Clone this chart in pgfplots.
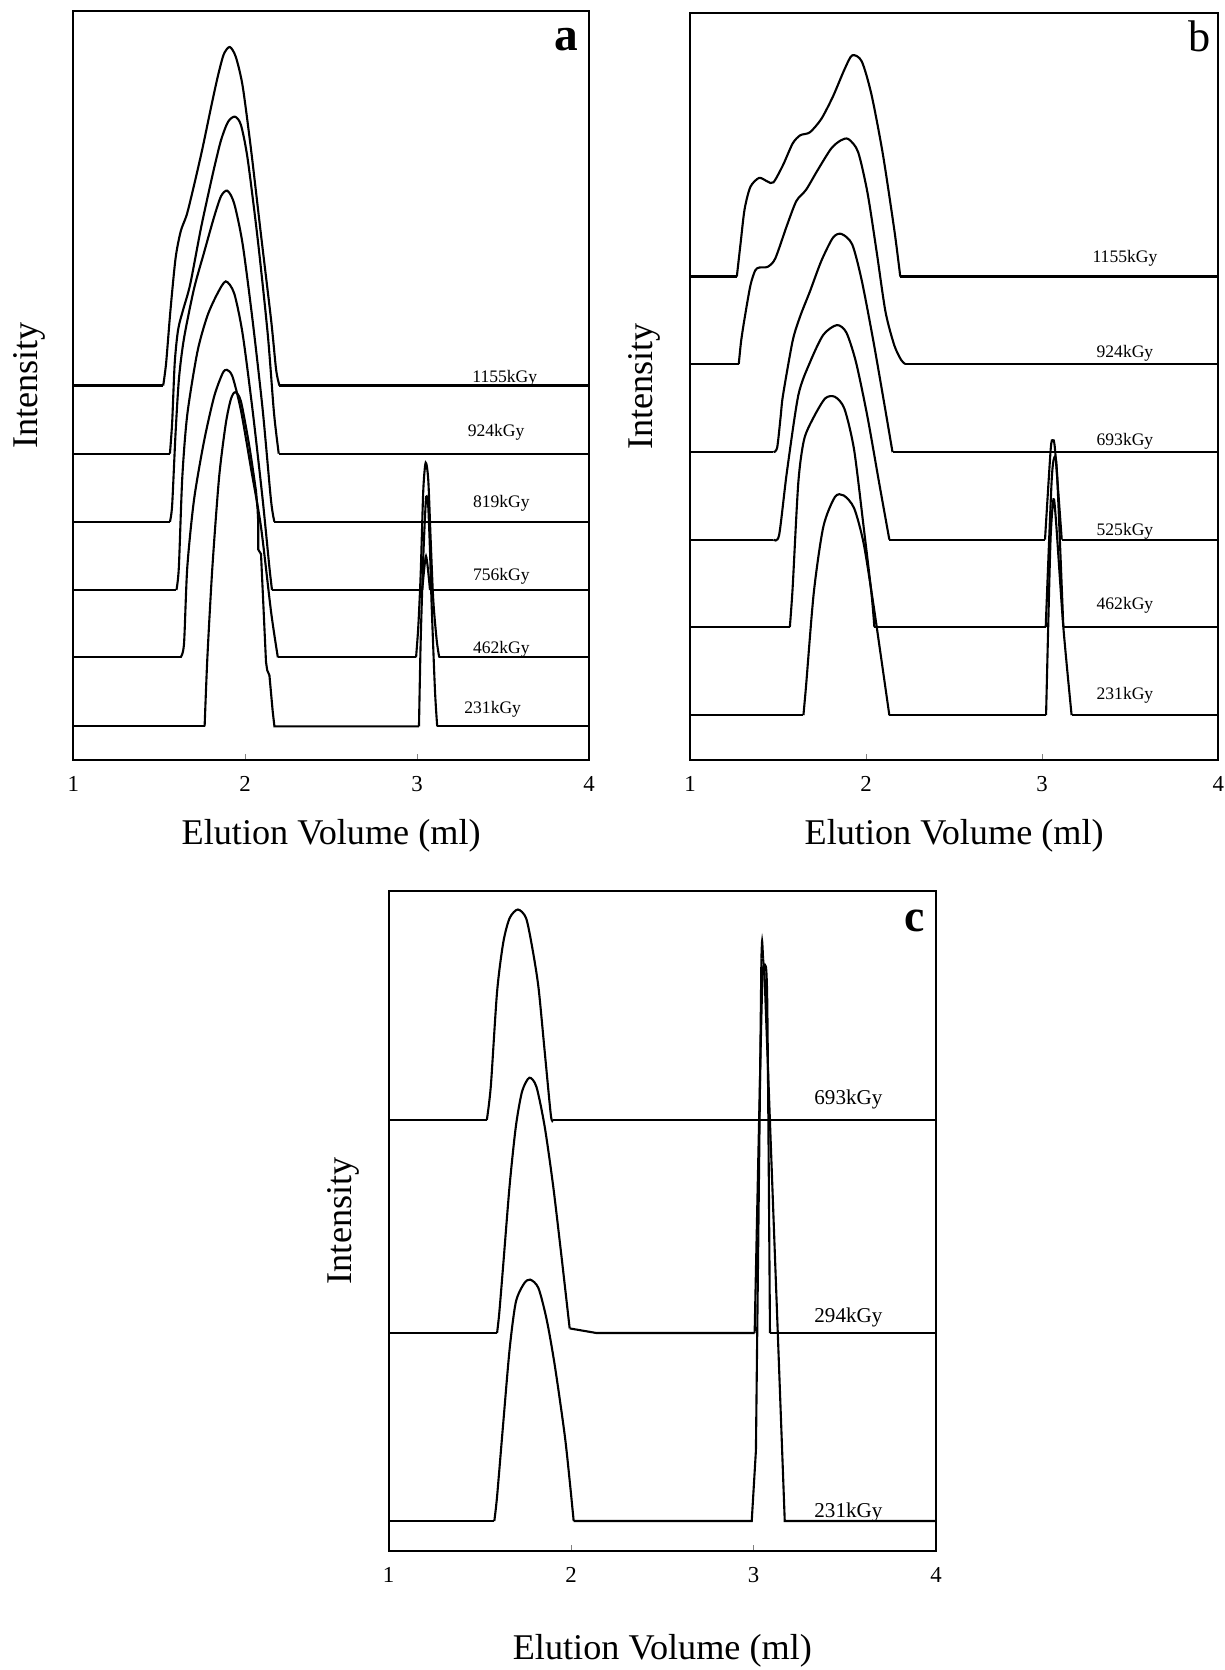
\documentclass[border=0pt]{standalone}
\usepackage{fontspec}
\setmainfont{Liberation Serif}
\usepackage{pgfplots}
\pgfplotsset{compat=1.18}

\pgfplotsset{
  elu/.style={
    scale only axis, anchor=south west,
    xmin=1, xmax=4, ymin=0, ymax=100,
    xtick={1,2,3,4}, ytick=\empty, xtick pos=bottom, tick align=inside,
    major tick length=0.6mm, line width=0.6pt,
    /pgf/number format/assume math mode=true,
    xticklabel style={font=\fontsize{6.5}{7}\selectfont, yshift=-0.4mm},
    xlabel={Elution Volume (ml)}, ylabel={Intensity},
    label style={font=\fontsize{10.3}{12}\selectfont},
    xlabel style={at={(axis description cs:0.5,0)}, anchor=center, yshift=-7.6mm},
    ylabel style={at={(axis description cs:-0.086,0.5)}, anchor=center},
  }
}
% straight pieces (baselines) and smooth pieces (peaks)
\newcommand\lin[1]{\addplot[black, line width=0.6pt, mark=none] coordinates {#1};}
\newcommand\seg[1]{\addplot[black, line width=0.6pt, mark=none, smooth, tension=0.45] coordinates {#1};}
\newcommand\lab[3]{\node[font=\fontsize{5}{6}\selectfont] at (axis cs:#1,#2) {#3kGy};}

\begin{document}
\begin{tikzpicture}
\path[use as bounding box] (0,0) rectangle (122.5mm,-167mm);

% ---- a ----
\begin{axis}[elu, at={(7.33mm,-76.0mm)}, width=51.57mm, height=74.9mm]
% 1155
\lin{(1,50)(1.523,50)}
\seg{(1.523,50)(1.54,53)(1.565,60)(1.595,67)(1.625,70.6)(1.66,72.8)(1.70,76.5)(1.75,81.5)(1.80,87)(1.84,91.2)(1.875,94.2)(1.91,95.2)(1.945,93.9)(1.985,90)(2.034,81.5)(2.092,70.1)(2.151,58.7)(2.18,52.1)(2.199,50)}
\lin{(2.199,50)(4,50)}
% 924
\lin{(1,40.9)(1.562,40.9)}
\seg{(1.562,40.9)(1.575,45)(1.59,53)(1.61,57.5)(1.64,60.2)(1.68,63.5)(1.74,70.7)(1.78,75)(1.82,79.1)(1.86,82.8)(1.90,85.2)(1.94,85.9)(1.975,84.8)(2.014,80.3)(2.073,69.5)(2.131,56.9)(2.165,47)(2.18,43.7)(2.195,40.9)}
\lin{(2.195,40.9)(4,40.9)}
% 819
\lin{(1,31.8)(1.562,31.8)}
\seg{(1.562,31.8)(1.575,34)(1.595,43.7)(1.615,51)(1.644,56.3)(1.702,62.9)(1.76,67.7)(1.819,72.5)(1.86,75.3)(1.897,76.0)(1.936,74.3)(1.985,68.9)(2.043,58.7)(2.102,46.7)(2.15,34.7)(2.17,31.8)}
\lin{(2.17,31.8)(4,31.8)}
% 756
\lin{(1,22.7)(1.6,22.7)}
\seg{(1.6,22.7)(1.614,25.7)(1.634,37.7)(1.663,46.1)(1.722,54.5)(1.78,59.3)(1.839,62.3)(1.887,63.9)(1.936,62.3)(1.985,56.9)(2.043,46.7)(2.102,34.7)(2.141,25.7)(2.156,22.7)}
\lin{(2.156,22.7)(3.03,22.7)}
\seg{(3.03,22.7)(3.052,27.2)(3.075,22.7)}
\lin{(3.075,22.7)(4,22.7)}
% 462
\lin{(1,13.7)(1.624,13.7)}
\seg{(1.624,13.7)(1.644,15.5)(1.663,25.7)(1.702,34.7)(1.76,42.5)(1.819,48.5)(1.868,51.6)(1.893,52.1)(1.926,51.2)(1.975,46.7)(2.034,38.9)(2.092,31.1)(2.151,19.7)(2.19,13.7)}
\lin{(2.19,13.7)(2.994,13.7)}
\seg{(2.994,13.7)(3.007,17.8)(3.021,24.9)(3.036,36.0)(3.05,39.7)(3.065,37.4)(3.079,29.4)(3.094,21.4)(3.114,16.0)(3.129,13.7)}
\lin{(3.129,13.7)(4,13.7)}
% 231
\lin{(1,4.5)(1.764,4.5)}
\seg{(1.764,4.5)(1.78,13.7)(1.809,25.7)(1.848,37.7)(1.887,44.9)(1.917,48.2)(1.942,49.1)(1.975,47.9)(2.024,41.9)(2.063,35.9)}
\lin{(2.063,35.9)(2.072,33.5)(2.076,31.7)(2.076,28.1)(2.092,27.5)(2.121,13.1)(2.128,12)(2.141,11.3)(2.16,6.5)(2.17,4.5)(3.011,4.5)}
\seg{(3.011,4.5)(3.021,16.0)(3.036,27.1)(3.05,34.3)(3.056,35.2)(3.065,33.8)(3.075,28.0)(3.085,20.5)(3.104,9.3)(3.117,4.5)}
\lin{(3.117,4.5)(4,4.5)}
\lab{3.51}{51.0}{1155}
\lab{3.46}{43.8}{924}
\lab{3.49}{34.3}{819}
\lab{3.49}{24.5}{756}
\lab{3.49}{14.8}{462}
\lab{3.44}{6.8}{231}
\node[font=\bfseries\fontsize{13.5}{14}\selectfont] at (rel axis cs:1,1) [xshift=-2.25mm, yshift=-2.9mm] {a};
\end{axis}

% ---- b ----
\begin{axis}[elu, at={(69.0mm,-76.0mm)}, width=52.83mm, height=74.73mm]
% 1155
\lin{(1,64.7)(1.266,64.7)}
\seg{(1.266,64.7)(1.288,69.3)(1.31,73.7)(1.343,76.7)(1.393,77.9)(1.441,77.4)(1.474,77.3)(1.528,79.6)(1.583,82.5)(1.626,83.6)(1.681,84.0)(1.746,85.8)(1.812,88.8)(1.877,92.4)(1.921,94.3)(1.975,93.5)(2.03,89.1)(2.095,81.1)(2.161,70.8)(2.194,64.7)}
\lin{(2.194,64.7)(4,64.7)}
% 924
\lin{(1,53.0)(1.277,53.0)}
\seg{(1.277,53.0)(1.29,56)(1.31,59.1)(1.343,63.5)(1.37,65.5)(1.393,65.9)(1.441,66.0)(1.484,67.1)(1.55,71.5)(1.604,74.8)(1.659,76.3)(1.724,78.9)(1.801,81.8)(1.855,82.9)(1.899,83.1)(1.954,81.4)(2.008,75.9)(2.06,68)(2.11,60)(2.16,55.5)(2.2,53.5)(2.222,53.0)}
\lin{(2.222,53.0)(4,53.0)}
% 693
\lin{(1,41.2)(1.474,41.2)}
\seg{(1.474,41.2)(1.495,41.8)(1.515,46)(1.528,48.8)(1.583,56.1)(1.626,59.4)(1.681,62.7)(1.746,66.8)(1.812,69.9)(1.86,70.4)(1.921,69.0)(1.975,64.2)(2.041,56.1)(2.106,47.3)(2.15,41.2)}
\lin{(2.15,41.2)(4,41.2)}
% 525
\lin{(1,29.5)(1.474,29.5)}
\seg{(1.474,29.5)(1.506,30.1)(1.55,38.5)(1.615,48.8)(1.681,53.2)(1.757,56.9)(1.834,58.2)(1.888,57.2)(1.943,53.2)(2.008,45.9)(2.074,37.1)(2.132,29.5)}
\lin{(2.132,29.5)(3.016,29.5)}
\seg{(3.016,29.5)(3.048,41.5)(3.06,42.8)(3.073,41.5)(3.111,29.5)}
\lin{(3.111,29.5)(4,29.5)}
% 462
\lin{(1,17.8)(1.567,17.8)}
\seg{(1.567,17.8)(1.583,23.1)(1.615,37.1)(1.648,42.9)(1.703,45.9)(1.768,48.4)(1.823,48.6)(1.877,47.0)(1.932,41.5)(1.986,31.2)(2.03,22.4)(2.047,17.8)}
\lin{(2.047,17.8)(3.02,17.8)}
\seg{(3.02,17.8)(3.054,37.5)(3.073,40.6)(3.086,37.5)(3.12,17.8)}
\lin{(3.12,17.8)(4,17.8)}
% 231
\lin{(1,6.0)(1.644,6.0)}
\seg{(1.644,6.0)(1.659,9.9)(1.703,22.4)(1.757,31.2)(1.823,35.2)(1.873,35.4)(1.932,33.7)(1.986,29.0)(2.041,20.9)(2.095,12.1)(2.132,6.0)}
\lin{(2.132,6.0)(3.022,6.0)}
\seg{(3.022,6.0)(3.035,18.7)(3.048,29.9)(3.064,34.9)(3.078,32.1)(3.12,17.8)(3.167,6.0)}
\lin{(3.167,6.0)(4,6.0)}
\lab{3.47}{67.1}{1155}
\lab{3.47}{54.4}{924}
\lab{3.47}{42.7}{693}
\lab{3.47}{30.6}{525}
\lab{3.47}{20.7}{462}
\lab{3.47}{8.6}{231}
\node[font=\fontsize{12.6}{13}\selectfont] at (rel axis cs:1,1) [xshift=-1.9mm, yshift=-2.4mm] {b};
\end{axis}

% ---- c ----
\begin{axis}[elu, at={(38.87mm,-155.07mm)}, width=54.73mm, height=65.97mm,
  xlabel style={yshift=-2.4mm}, ylabel style={at={(axis description cs:-0.0835,0.5)}}]
% 693
\lin{(1,65.3)(1.538,65.3)}
\seg{(1.538,65.3)(1.56,70.5)(1.594,84.7)(1.628,92.2)(1.663,95.9)(1.708,97.2)(1.753,95.9)(1.787,91.4)(1.821,85.4)(1.855,75.7)(1.889,66.0)(1.9,65.3)}
\lin{(1.9,65.3)(4,65.3)}
% 294
\lin{(1,33.0)(1.594,33.0)}
\seg{(1.594,33.0)(1.606,36.0)(1.628,43.4)(1.663,55.4)(1.697,64.3)(1.731,69.6)(1.771,71.7)(1.81,70.3)(1.855,64.3)(1.901,55.4)(1.946,44.9)(1.992,33.7)}
\lin{(1.992,33.7)(2.139,33.0)(3.006,33.0)}
\seg{(3.006,33.0)(3.045,83.3)(3.06,88.6)(3.075,83.3)(3.09,33.0)}
\lin{(3.09,33.0)(4,33.0)}
% 231
\lin{(1,4.5)(1.579,4.5)}
\seg{(1.579,4.5)(1.594,8.2)(1.628,19.4)(1.663,30.6)(1.697,37.7)(1.742,40.5)(1.776,41.1)(1.821,39.8)(1.867,34.9)(1.912,27.8)(1.969,16.6)(2.014,4.5)}
\lin{(2.014,4.5)(2.99,4.5)(3.013,15.2)(3.043,89.8)}
\seg{(3.043,89.8)(3.047,92.4)(3.052,89.8)}
\lin{(3.052,89.8)(3.06,87.4)(3.171,4.5)(4,4.5)}
\node[font=\fontsize{6}{7}\selectfont] at (axis cs:3.52,68.4) {693kGy};
\node[font=\fontsize{6}{7}\selectfont] at (axis cs:3.52,35.4) {294kGy};
\node[font=\fontsize{6}{7}\selectfont] at (axis cs:3.52,5.8) {231kGy};
\node[font=\bfseries\fontsize{13}{14}\selectfont] at (rel axis cs:1,1) [xshift=-2.15mm, yshift=-2.95mm] {c};
\end{axis}
\end{tikzpicture}
\end{document}
